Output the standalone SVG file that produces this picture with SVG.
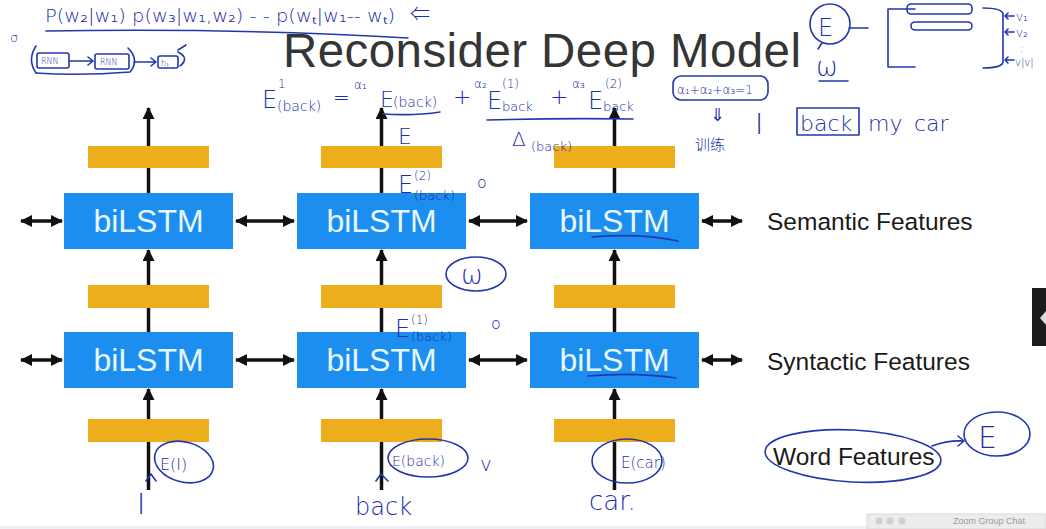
<svg xmlns="http://www.w3.org/2000/svg" width="1046" height="529" viewBox="0 0 1046 529">
<defs>
<marker id="ah" viewBox="0 0 12 12" refX="11" refY="6" markerWidth="12" markerHeight="12" markerUnits="userSpaceOnUse" orient="auto-start-reverse"><path d="M0,0 L12,6 L0,12 z" fill="#111"/></marker>
</defs>
<style>
.box{fill:#1b8ef0}
.bl{font-family:"Liberation Sans",Arial,sans-serif;font-size:32px;fill:#e6f7ff;text-anchor:middle}
.bar{fill:#ecae1a}
.ln{stroke:#111;stroke-width:3.5;fill:none}
.lab{font-family:"Liberation Sans",Arial,sans-serif;font-size:24.5px;fill:#1a1a1a}
.hw{font-family:"DejaVu Sans","Noto Sans CJK SC",sans-serif;font-weight:200;fill:#1c2fa6}
.hs{stroke:#2236ad;stroke-width:1.6;fill:none;stroke-linecap:round;stroke-linejoin:round}
</style>
<rect width="1046" height="529" fill="#ffffff"/>

<g id="title">
<text x="283" y="67" font-family="'Liberation Sans',Arial,sans-serif" font-size="47.5" fill="#353535" textLength="518" lengthAdjust="spacing">Reconsider Deep Model</text>
</g>

<g id="connectors">
<path class="ln" d="M148.5,193 V108" marker-end="url(#ah)"/>
<path class="ln" d="M381.5,193 V108" marker-end="url(#ah)"/>
<path class="ln" d="M614.5,193 V108" marker-end="url(#ah)"/>
<path class="ln" d="M148.5,332 V250" marker-end="url(#ah)"/>
<path class="ln" d="M381.5,332 V250" marker-end="url(#ah)"/>
<path class="ln" d="M614.5,332 V250" marker-end="url(#ah)"/>
<path class="ln" d="M148.5,490 V389" marker-end="url(#ah)"/>
<path class="ln" d="M381.5,490 V389" marker-end="url(#ah)"/>
<path class="ln" d="M614.5,490 V389" marker-end="url(#ah)"/>
<path class="ln" d="M21,221 H62" marker-start="url(#ah)" marker-end="url(#ah)"/>
<path class="ln" d="M236,221 H294" marker-start="url(#ah)" marker-end="url(#ah)"/>
<path class="ln" d="M469,221 H527" marker-start="url(#ah)" marker-end="url(#ah)"/>
<path class="ln" d="M702,221 H742" marker-start="url(#ah)" marker-end="url(#ah)"/>
<path class="ln" d="M21,360 H62" marker-start="url(#ah)" marker-end="url(#ah)"/>
<path class="ln" d="M236,360 H294" marker-start="url(#ah)" marker-end="url(#ah)"/>
<path class="ln" d="M469,360 H527" marker-start="url(#ah)" marker-end="url(#ah)"/>
<path class="ln" d="M702,360 H742" marker-start="url(#ah)" marker-end="url(#ah)"/>
</g>

<g id="bar-top-1"><rect class="bar" x="88" y="146" width="121" height="22"/></g>
<g id="bar-top-2"><rect class="bar" x="321" y="146" width="121" height="22"/></g>
<g id="bar-top-3"><rect class="bar" x="554" y="146" width="121" height="22"/></g>
<g id="bar-mid-1"><rect class="bar" x="88" y="285" width="121" height="23"/></g>
<g id="bar-mid-2"><rect class="bar" x="321" y="285" width="121" height="23"/></g>
<g id="bar-mid-3"><rect class="bar" x="554" y="285" width="121" height="23"/></g>
<g id="bar-bot-1"><rect class="bar" x="88" y="419" width="121" height="23"/></g>
<g id="bar-bot-2"><rect class="bar" x="321" y="419" width="121" height="23"/></g>
<g id="bar-bot-3"><rect class="bar" x="554" y="419" width="121" height="23"/></g>

<g id="bilstm-sem-1"><rect class="box" x="64" y="193" width="169" height="56"/><text class="bl" x="148.5" y="232">biLSTM</text></g>
<g id="bilstm-sem-2"><rect class="box" x="297" y="193" width="169" height="56"/><text class="bl" x="381.5" y="232">biLSTM</text></g>
<g id="bilstm-sem-3"><rect class="box" x="530" y="193" width="169" height="56"/><text class="bl" x="614.5" y="232">biLSTM</text></g>
<g id="bilstm-syn-1"><rect class="box" x="64" y="332" width="169" height="56"/><text class="bl" x="148.5" y="371">biLSTM</text></g>
<g id="bilstm-syn-2"><rect class="box" x="297" y="332" width="169" height="56"/><text class="bl" x="381.5" y="371">biLSTM</text></g>
<g id="bilstm-syn-3"><rect class="box" x="530" y="332" width="169" height="56"/><text class="bl" x="614.5" y="371">biLSTM</text></g>

<g id="label-semantic"><text class="lab" x="767" y="230">Semantic Features</text></g>
<g id="label-syntactic"><text class="lab" x="767" y="370">Syntactic Features</text></g>
<g id="label-word"><text class="lab" x="773" y="465" font-size="24">Word Features</text></g>

<g id="annotations">
<!-- top left -->
<text class="hw" x="45" y="22" font-size="17" textLength="350" lengthAdjust="spacingAndGlyphs">P(w₂|w₁) p(w₃|w₁,w₂) - - p(wₜ|w₁-- wₜ)</text>
<text class="hw" x="410" y="21" font-size="20">⇐</text>
<path class="hs" d="M46,31 Q240,28 408,38"/>
<text class="hw" x="10" y="42" font-size="13">σ</text>
<path class="hs" d="M36,46 Q27,60 36,73"/>
<rect class="hs" x="37" y="53" width="32" height="15" rx="2"/>
<text class="hw" x="41" y="64" font-size="8">RNN</text>
<path class="hs" d="M70,61 H93 M88,57 L93,61 L88,65"/>
<rect class="hs" x="95" y="54" width="34" height="15" rx="2"/>
<text class="hw" x="100" y="65" font-size="8">RNN</text>
<path class="hs" d="M128,48 Q140,60 130,72 Q80,76 36,73"/>
<path class="hs" d="M134,62 H156 M151,58 L156,62 L151,66"/>
<rect class="hs" x="158" y="56" width="20" height="12" rx="2"/>
<text class="hw" x="161" y="66" font-size="8">h₁</text>
<path class="hs" d="M178,50 L186,45 M178,52 Q190,58 180,66"/>

<!-- formula -->
<text class="hw" font-size="24"><tspan x="262" y="108">E</tspan><tspan x="278" y="88" font-size="12">1</tspan><tspan x="277" y="111" font-size="14">(back)</tspan><tspan x="333" y="104" font-size="20">=</tspan><tspan x="354" y="89" font-size="12">α₁</tspan><tspan x="380" y="107" font-size="22">E</tspan><tspan x="393" y="107" font-size="14">(back)</tspan><tspan x="453" y="104" font-size="22">+</tspan><tspan x="474" y="88" font-size="12">α₂</tspan><tspan x="487" y="109">E</tspan><tspan x="502" y="88" font-size="12">(1)</tspan><tspan x="502" y="111" font-size="13">back</tspan><tspan x="550" y="104" font-size="22">+</tspan><tspan x="572" y="88" font-size="12">α₃</tspan><tspan x="588" y="109">E</tspan><tspan x="605" y="88" font-size="12">(2)</tspan><tspan x="603" y="111" font-size="13">back</tspan></text>
<path class="hs" d="M383,114 Q415,116 440,112"/>
<path class="hs" d="M487,120 Q560,118 633,119"/>
<text class="hw" x="512" y="146" font-size="20">Δ<tspan x="531" y="151" font-size="13">(back)</tspan></text>

<!-- column 2 notes -->
<text class="hw" x="398" y="144" font-size="22">E</text>
<text class="hw" font-size="24"><tspan x="398" y="193">E</tspan><tspan x="414" y="180" font-size="12">(2)</tspan><tspan x="414" y="200" font-size="13">(back)</tspan></text>
<text class="hw" x="477" y="188" font-size="16">o</text>
<ellipse class="hs" cx="476" cy="274" rx="30" ry="17"/>
<text class="hw" x="461" y="284" font-size="26">ω</text>
<text class="hw" font-size="24"><tspan x="395" y="337">E</tspan><tspan x="411" y="324" font-size="12">(1)</tspan><tspan x="411" y="341" font-size="13">(back)</tspan></text>
<text class="hw" x="491" y="329" font-size="16">o</text>

<!-- LSTM underlines -->
<path class="hs" d="M592,237 Q640,233 678,241"/>
<path class="hs" d="M588,376 Q635,372 676,378"/>

<!-- top right -->
<circle class="hs" cx="830" cy="24" r="20"/>
<text class="hw" x="818" y="36" font-size="24">E</text>
<path class="hs" d="M849,28 H868 M822,43 L818,49"/>
<text class="hw" x="816" y="76" font-size="26">ω</text>
<path class="hs" d="M819,81 H848"/>
<path class="hs" d="M915,9 H888 V67 H915"/>
<rect class="hs" x="907" y="4" width="65" height="10" rx="4"/>
<rect class="hs" x="911" y="22" width="61" height="8" rx="4"/>
<path class="hs" d="M983,8 Q1002,8 1003,14 V62 Q1002,68 983,68"/>
<path class="hs" d="M1014,16 H1005 M1008,13 L1005,16 L1008,19 M1014,32 H1005 M1008,29 L1005,32 L1008,35 M1014,60 H1005 M1008,57 L1005,60 L1008,63"/>
<text class="hw" x="1016" y="21" font-size="12">v₁</text>
<text class="hw" x="1016" y="37" font-size="12">v₂</text>
<text class="hw" x="1020" y="52" font-size="11">:</text>
<text class="hw" x="1015" y="66" font-size="10">v|v|</text>
<rect class="hs" x="673" y="76" width="95" height="24" rx="8"/>
<text class="hw" x="677" y="94" font-size="12">α₁+α₂+α₃=1</text>
<text class="hw" x="710" y="121" font-size="18">⇓</text>
<text class="hw" x="695" y="150" font-size="15">训练</text>
<text class="hw" x="755" y="134" font-size="28" font-family="'Liberation Serif',serif">I</text>
<rect class="hs" x="797" y="108" width="62" height="27"/>
<text class="hw" x="800" y="131" font-size="22">back</text>
<text class="hw" x="868" y="131" font-size="22">my</text>
<text class="hw" x="914" y="131" font-size="22">car</text>

<!-- bottom notes -->
<ellipse class="hs" cx="184" cy="462" rx="30" ry="20" transform="rotate(15 184 462)"/>
<text class="hw" x="160" y="470" font-size="16">E(I)</text>
<path class="hs" d="M146,481 L151,474 L156,481"/>
<text class="hw" x="137" y="514" font-size="28" font-family="'Liberation Serif',serif">I</text>
<ellipse class="hs" cx="428" cy="458" rx="40" ry="19"/>
<text class="hw" x="392" y="466" font-size="14">E(back)</text>
<path class="hs" d="M376,481 L381,474 L388,481"/>
<text class="hw" x="480" y="471" font-size="20">v</text>
<text class="hw" x="355" y="515" font-size="24">back</text>
<ellipse class="hs" cx="627" cy="461" rx="35" ry="22"/>
<text class="hw" x="621" y="468" font-size="15">E(car)</text>
<text class="hw" x="589" y="510" font-size="26">car.</text>
<ellipse class="hs" cx="853" cy="456" rx="88" ry="26" transform="rotate(3 853 456)"/>
<path class="hs" d="M932,446 Q948,440 964,441 M958,436 L964,441 L958,446"/>
<ellipse class="hs" cx="997" cy="434" rx="33" ry="22"/>
<text class="hw" x="978" y="448" font-size="30">E</text>
</g>

<g id="ui">
<rect x="1032" y="288" width="14" height="58" fill="#1d1d1d"/>
<polygon points="1046,311 1040,318 1046,325" fill="#dddddd"/>
<rect x="0" y="526" width="1046" height="3" fill="#eef2f4"/>
<rect x="867" y="514" width="179" height="15" fill="#ececec" stroke="#d9d9d9"/>
<circle cx="879" cy="521" r="3.5" fill="#cfcfcf"/>
<circle cx="890" cy="521" r="3.5" fill="#cfcfcf"/>
<circle cx="902" cy="521" r="3.5" fill="#cfcfcf"/>
<text x="953" y="524" font-family="'Liberation Sans',sans-serif" font-size="9" fill="#9a9a9a">Zoom Group Chat</text>
</g>
</svg>
